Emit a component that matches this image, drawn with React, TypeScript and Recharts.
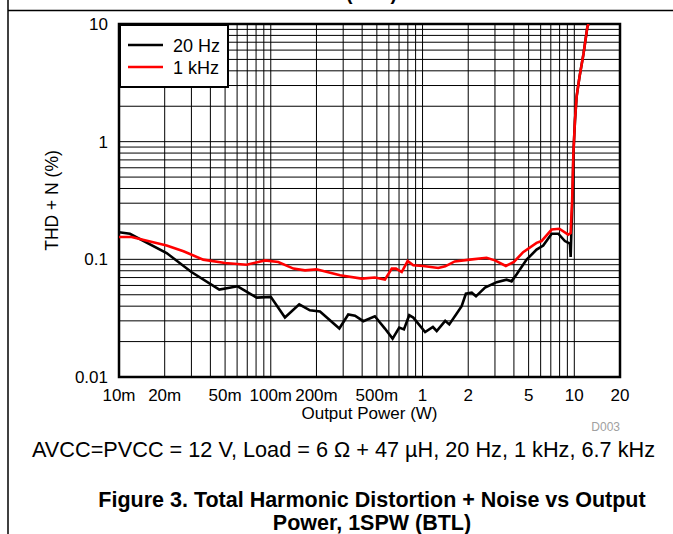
import React from 'react';
import { LineChart, Line, XAxis, YAxis, CartesianGrid, ReferenceArea, Legend } from 'recharts';

const xGridTicks = [
  0.01, 0.02, 0.03, 0.04, 0.05, 0.06, 0.07, 0.08, 0.09,
  0.1, 0.2, 0.3, 0.4, 0.5, 0.6, 0.7, 0.8, 0.9,
  1, 2, 3, 4, 5, 6, 7, 8, 9,
  10, 20,
];
const xTickLabels: Record<string, string> = {
  '0.01': '10m', '0.02': '20m', '0.05': '50m', '0.1': '100m', '0.2': '200m', '0.5': '500m',
  '1': '1', '2': '2', '5': '5', '10': '10', '20': '20',
};
const yGridTicks = [
  0.01, 0.02, 0.03, 0.04, 0.05, 0.06, 0.07, 0.08, 0.09,
  0.1, 0.2, 0.3, 0.4, 0.5, 0.6, 0.7, 0.8, 0.9,
  1, 2, 3, 4, 5, 6, 7, 8, 9,
  10,
];
const yTickLabels: Record<string, string> = { '0.01': '0.01', '0.1': '0.1', '1': '1', '10': '10' };

const power20Hz = [
  0.01, 0.0118, 0.0206, 0.03, 0.0458, 0.0605, 0.0807, 0.1, 0.124, 0.154, 0.181, 0.211, 0.283, 0.324,
  0.359, 0.407, 0.485, 0.565, 0.635, 0.702, 0.754, 0.817, 0.869, 1.04, 1.17, 1.24, 1.41, 1.5, 1.68,
  1.81, 1.93, 2.11, 2.25, 2.58, 3.08, 3.58, 3.86, 4.17, 4.85, 5.64, 6.24, 7.09, 7.84, 8.67, 9.35,
  9.46, 9.6, 9.75, 9.86, 10.1, 10.35, 10.8, 11.5, 12.2, 12.4,
];
const thd20Hz = [
  0.17, 0.165, 0.113, 0.078, 0.0553, 0.059, 0.0473, 0.048, 0.032, 0.0414, 0.0369, 0.036, 0.0258, 0.034,
  0.0332, 0.0298, 0.0328, 0.0258, 0.0212, 0.0263, 0.0254, 0.0335, 0.032, 0.0241, 0.0266, 0.0246, 0.03, 0.028, 0.0346,
  0.04, 0.051, 0.052, 0.0485, 0.0575, 0.064, 0.0672, 0.065, 0.0746, 0.0994, 0.121, 0.131, 0.165, 0.165, 0.143, 0.136,
  0.105, 0.2, 0.35, 0.79, 1.5, 2.4, 3.5, 5.6, 9.5, 10,
];

const power1kHz = [
  0.01, 0.0121, 0.0206, 0.0266, 0.0359, 0.0499, 0.0693, 0.0916, 0.112, 0.141, 0.168, 0.2, 0.286, 0.397,
  0.485, 0.565, 0.627, 0.669, 0.729, 0.798, 0.869, 1.01, 1.27, 1.41, 1.63, 2.05, 2.64, 3.0, 3.54, 4.0,
  4.6, 5.64, 6.08, 7.09, 7.97, 9.12, 9.46, 9.54, 9.68, 9.86, 10.1, 10.35, 10.8, 11.5, 12.2, 12.4,
];
const thd1kHz = [
  0.155, 0.155, 0.131, 0.117, 0.0994, 0.093, 0.09, 0.098, 0.095, 0.0834, 0.0806, 0.0822, 0.0731, 0.0686,
  0.07, 0.0672, 0.0834, 0.0834, 0.078, 0.0967, 0.089, 0.0878, 0.0844, 0.0872, 0.096, 0.0994, 0.103, 0.098, 0.0878, 0.095,
  0.115, 0.138, 0.143, 0.179, 0.182, 0.162, 0.167, 0.214, 0.317, 0.79, 1.52, 2.4, 3.5, 5.6, 9.5, 10,
];

const series = [
  { name: '20 Hz', color: '#000000', data: power20Hz.map((x, i) => ({ x, y: thd20Hz[i] })) },
  { name: '1 kHz', color: '#ff0000', data: power1kHz.map((x, i) => ({ x, y: thd1kHz[i] })) },
];

const FONT = '"Liberation Sans", Arial, Helvetica, sans-serif';

const LegendBox = () => (
  <div
    style={{
      width: 110,
      height: 64,
      boxSizing: 'border-box',
      border: '2px solid #000',
      background: '#fff',
      fontFamily: FONT,
    }}
  >
    <svg width={106} height={60} style={{ display: 'block' }}>
      {series.map((s, i) => (
        <g key={s.name}>
          <line x1={7} x2={42} y1={19 + i * 22} y2={19 + i * 22} stroke={s.color} strokeWidth={2.5} />
          <text x={52} y={25.5 + i * 22} fontSize={18} fill="#000" fontFamily={FONT}>
            {s.name}
          </text>
        </g>
      ))}
    </svg>
  </div>
);

export default function App() {
  return (
    <div
      style={{
        position: 'absolute',
        left: 0,
        top: 0,
        width: 673,
        height: 534,
        background: '#fff',
        overflow: 'hidden',
        fontFamily: FONT,
      }}
    >
      <div style={{ position: 'absolute', left: 0, top: 0 }}>
        <LineChart width={673} height={534} margin={{ top: 24, right: 53, left: 30, bottom: 127 }}>
          <CartesianGrid stroke="#000" strokeWidth={1} horizontalValues={yGridTicks} verticalValues={xGridTicks} />
          <XAxis
            dataKey="x"
            type="number"
            scale="log"
            domain={[0.01, 20]}
            ticks={xGridTicks}
            interval={0}
            allowDataOverflow
            height={30}
            tickSize={0}
            tickMargin={12}
            axisLine={false}
            tickLine={false}
            tick={{ fontSize: 17, fill: '#000', fontFamily: FONT }}
            tickFormatter={(v: number) => xTickLabels[String(v)] ?? ''}
            label={{ value: 'Output Power (W)', position: 'bottom', offset: 0, fontSize: 17, fill: '#000', fontFamily: FONT }}
          />
          <YAxis
            dataKey="y"
            type="number"
            scale="log"
            domain={[0.01, 10]}
            ticks={yGridTicks}
            interval={0}
            allowDataOverflow
            width={89}
            tickSize={0}
            tickMargin={11}
            axisLine={false}
            tickLine={false}
            tick={{ fontSize: 17, fill: '#000', fontFamily: FONT }}
            tickFormatter={(v: number) => yTickLabels[String(v)] ?? ''}
            label={{
              value: 'THD + N (%)',
              angle: -90,
              position: 'insideLeft',
              offset: 22,
              fontSize: 17.5,
              fill: '#000',
              fontFamily: FONT,
              style: { textAnchor: 'middle' },
            }}
          />
          {series.map((s) => (
            <Line
              key={s.name}
              data={s.data}
              dataKey="y"
              name={s.name}
              type="linear"
              stroke={s.color}
              strokeWidth={2.6}
              dot={false}
              activeDot={false}
              isAnimationActive={false}
            />
          ))}
          <ReferenceArea x1={0.01} x2={20} y1={0.01} y2={10} fill="none" stroke="#000" strokeWidth={2.5} ifOverflow="visible" />
          <Legend
            layout="horizontal"
            verticalAlign="middle"
            align="center"
            content={() => <LegendBox />}
            wrapperStyle={{ left: 119, top: 24, width: 110, height: 64 }}
          />
        </LineChart>
      </div>
      <svg
        width={673}
        height={534}
        style={{ position: 'absolute', left: 0, top: 0, pointerEvents: 'none' }}
        fontFamily={FONT}
      >
        <line x1={8} x2={8} y1={0} y2={534} stroke="#000" strokeWidth={1.5} />
        <line x1={8} x2={673} y1={10.5} y2={10.5} stroke="#000" strokeWidth={1.5} />
        <text x={346} y={0} fontSize={19.5} fontWeight="bold" fill="#000">(BTL)</text>
        <text x={620} y={431} fontSize={12} fill="#a0a0a0" textAnchor="end">D003</text>
        <text x={32} y={457} fontSize={21.5} fill="#000" textLength={623} lengthAdjust="spacingAndGlyphs">
          AVCC=PVCC = 12 V, Load = 6 Ω + 47 µH, 20 Hz, 1 kHz, 6.7 kHz
        </text>
        <text x={372} y={507} fontSize={21.5} fontWeight="bold" fill="#000" textAnchor="middle">
          Figure 3. Total Harmonic Distortion + Noise vs Output
        </text>
        <text x={372} y={530} fontSize={21.5} fontWeight="bold" fill="#000" textAnchor="middle">
          Power, 1SPW (BTL)
        </text>
      </svg>
    </div>
  );
}
